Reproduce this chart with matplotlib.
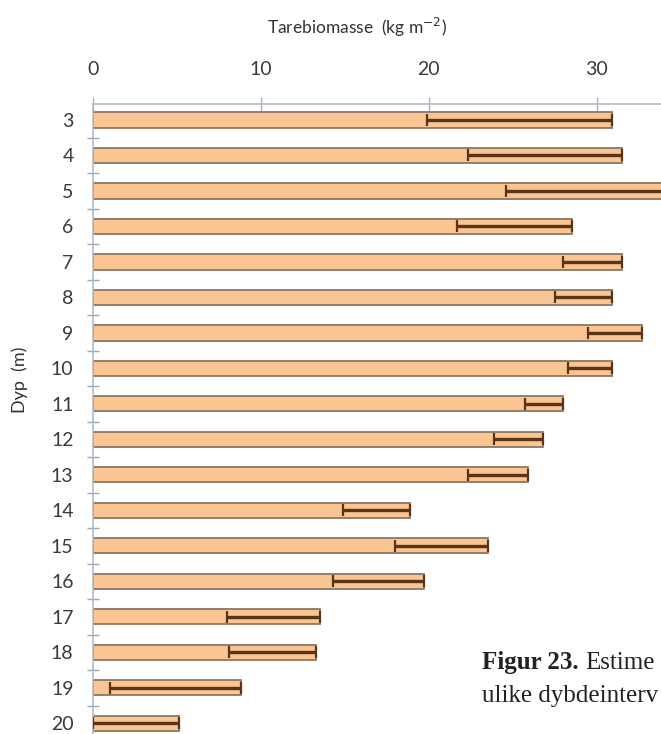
import matplotlib
matplotlib.use("Agg")
import matplotlib.pyplot as plt
import numpy as np

depths = [3, 4, 5, 6, 7, 8, 9, 10, 11, 12, 13, 14, 15, 16, 17, 18, 19, 20]
upper = [30.9, 31.5, 35.5, 28.5, 31.5, 30.9, 32.7, 30.9, 28.0, 26.8, 25.9, 18.9, 23.5, 19.7, 13.5, 13.3, 8.8, 5.1]
lower = [19.9, 22.3, 24.6, 21.7, 28.0, 27.5, 29.5, 28.3, 25.7, 23.9, 22.3, 14.9, 18.0, 14.3, 8.0, 8.1, 1.0, 0.0]
xticks = [0, 10, 20, 30]

plt.rcParams['font.family'] = ['Lato', 'DejaVu Sans']
fig = plt.figure(figsize=(6.61, 7.34), dpi=100)
ax = fig.add_axes([93/661, -7/734, (664-93)/661, (741-104)/734])

y = np.array(depths, dtype=float)
up = np.array(upper)
lo = np.array(lower)

ax.barh(y, up, height=0.43, color='#FAC590', edgecolor='#8a7665', linewidth=1.3, zorder=2)
ax.errorbar(up, y, xerr=[up - lo, np.zeros_like(up)], fmt='none', ecolor='#5a3418',
            elinewidth=2.4, capsize=4.5, capthick=1.6, zorder=3)

ax.set_xlim(0, 34)
ax.set_ylim(20.5, 2.55)
ax.xaxis.tick_top()
ax.xaxis.set_label_position('top')
ax.set_xticks(xticks)
ax.set_xticklabels([str(t) for t in xticks], fontsize=14, color='#3a3a3a')
ax.set_yticks(y)
ax.set_yticklabels([str(d) for d in depths], fontsize=14, color='#3a3a3a')
ax.set_yticks(np.arange(3.5, 20.5, 1.0), minor=True)
ax.tick_params(axis='y', which='major', length=0, pad=14)
ax.tick_params(axis='y', which='minor', length=8, direction='inout', color='#9aa8b8', width=1)
ax.tick_params(axis='x', which='major', length=10, direction='inout', color='#aab4c0', width=1, pad=14)

for s in ['right', 'bottom']:
    ax.spines[s].set_visible(False)
for s in ['top', 'left']:
    ax.spines[s].set_color('#b0bccb')
    ax.spines[s].set_linewidth(1.2)

fig.text(357/661, 1 - 27/734, 'Tarebiomasse  (kg m$^{-2}$)', ha='center', va='center',
         fontsize=12.5, color='#333333')
fig.text(20/661, 1 - 380/734, 'Dyp  (m)', ha='center', va='center', rotation=90,
         fontsize=13, color='#333333')

# caption fragment (cut by the image edge in the reference)
t1 = fig.text(482/661, 1 - 663/734, 'Figur 23.', ha='left', va='center',
              fontsize=18, family='Liberation Serif', weight='bold', color='#222222')
fig.canvas.draw()
bb = t1.get_window_extent(fig.canvas.get_renderer())
fig.text((bb.x1 + 7) / 661, 1 - 663/734, 'Estime', ha='left', va='center',
         fontsize=18, family='Liberation Serif', color='#222222')
fig.text(482/661, 1 - 696/734, 'ulike dybdeinterv', ha='left', va='center',
         fontsize=18, family='Liberation Serif', color='#222222')

fig.savefig('out.png', dpi=100)
